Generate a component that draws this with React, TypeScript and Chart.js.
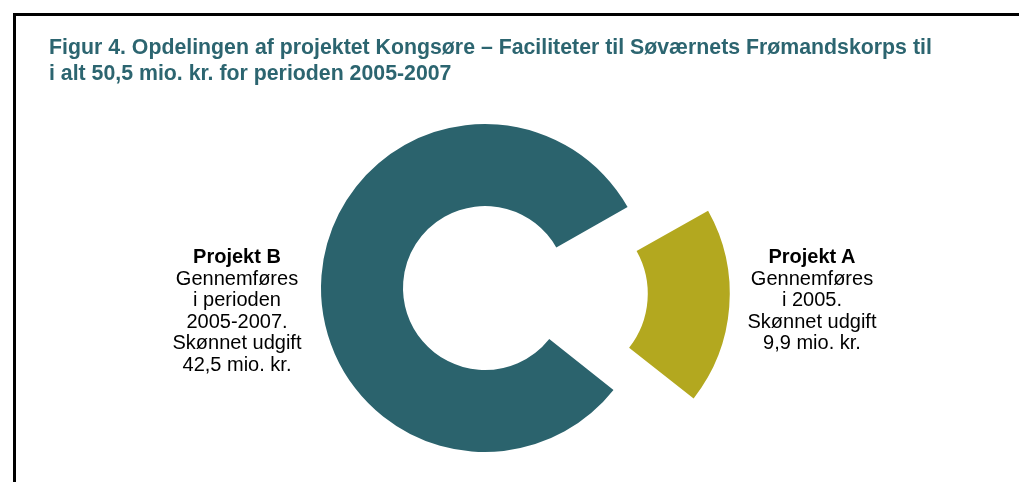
import React, { useEffect, useRef } from "react";
import { Chart, registerables } from "chart.js";

Chart.register(...registerables);

const categories = ["Projekt A", "Projekt B"];
const values = [9.9, 42.5];
const sliceColors = ["#b3a81f", "#2b636d"];
const sliceOffsets = [302, 0];

const titleLines = [
  "Figur 4. Opdelingen af projektet Kongsøre – Faciliteter til Søværnets Frømandskorps til",
  "i alt 50,5 mio. kr. for perioden 2005-2007",
];
const labelA = ["Projekt A", "Gennemføres", "i 2005.", "Skønnet udgift", "9,9 mio. kr."];
const labelB = ["Projekt B", "Gennemføres", "i perioden", "2005-2007.", "Skønnet udgift", "42,5 mio. kr."];

const FONT = '"Liberation Sans", Arial, Helvetica, sans-serif';

function Label({ lines, cx, top }: { lines: string[]; cx: number; top: number }) {
  return (
    <div
      style={{
        position: "absolute",
        left: cx - 120,
        top,
        width: 240,
        textAlign: "center",
        fontFamily: FONT,
        fontSize: 20,
        lineHeight: "21.6px",
        color: "#000",
      }}
    >
      {lines.map((l, i) => (
        <div key={i} style={{ fontWeight: i === 0 ? "bold" : "normal", whiteSpace: "nowrap" }}>
          {l}
        </div>
      ))}
    </div>
  );
}

export default function App() {
  const ref = useRef<HTMLCanvasElement | null>(null);

  useEffect(() => {
    if (!ref.current) return;
    const chart = new Chart(ref.current, {
      type: "doughnut",
      data: {
        labels: categories,
        datasets: [
          {
            data: values,
            backgroundColor: sliceColors,
            borderWidth: 0,
            offset: sliceOffsets,
            hoverOffset: 0,
          },
        ],
      },
      options: {
        animation: false,
        responsive: false,
        maintainAspectRatio: false,
        rotation: 60.4,
        radius: 164,
        cutout: "50%",
        events: [],
        layout: { padding: { left: 0, right: 49, top: 0, bottom: 0 } },
        plugins: {
          legend: { display: false },
          tooltip: { enabled: false },
          title: { display: false },
        },
      },
    });
    return () => chart.destroy();
  }, []);

  return (
    <div style={{ position: "fixed", left: 0, top: 0, width: 1019, height: 482, overflow: "hidden", background: "#fff" }}>
      <div
        style={{
          position: "absolute",
          left: 13,
          top: 13,
          width: 1200,
          height: 800,
          borderLeft: "3px solid #000",
          borderTop: "3px solid #000",
        }}
      />
      <canvas ref={ref} width={1019} height={576} style={{ position: "absolute", left: 0, top: 0, width: 1019, height: 576 }} />
      <div
        style={{
          position: "absolute",
          left: 49,
          top: 34,
          fontFamily: FONT,
          fontWeight: "bold",
          fontSize: 21.3,
          lineHeight: "26px",
          color: "#2c6570",
          whiteSpace: "nowrap",
        }}
      >
        {titleLines.map((l, i) => (
          <div key={i}>{l}</div>
        ))}
      </div>
      <Label lines={labelB} cx={237} top={246} />
      <Label lines={labelA} cx={812} top={246} />
    </div>
  );
}
